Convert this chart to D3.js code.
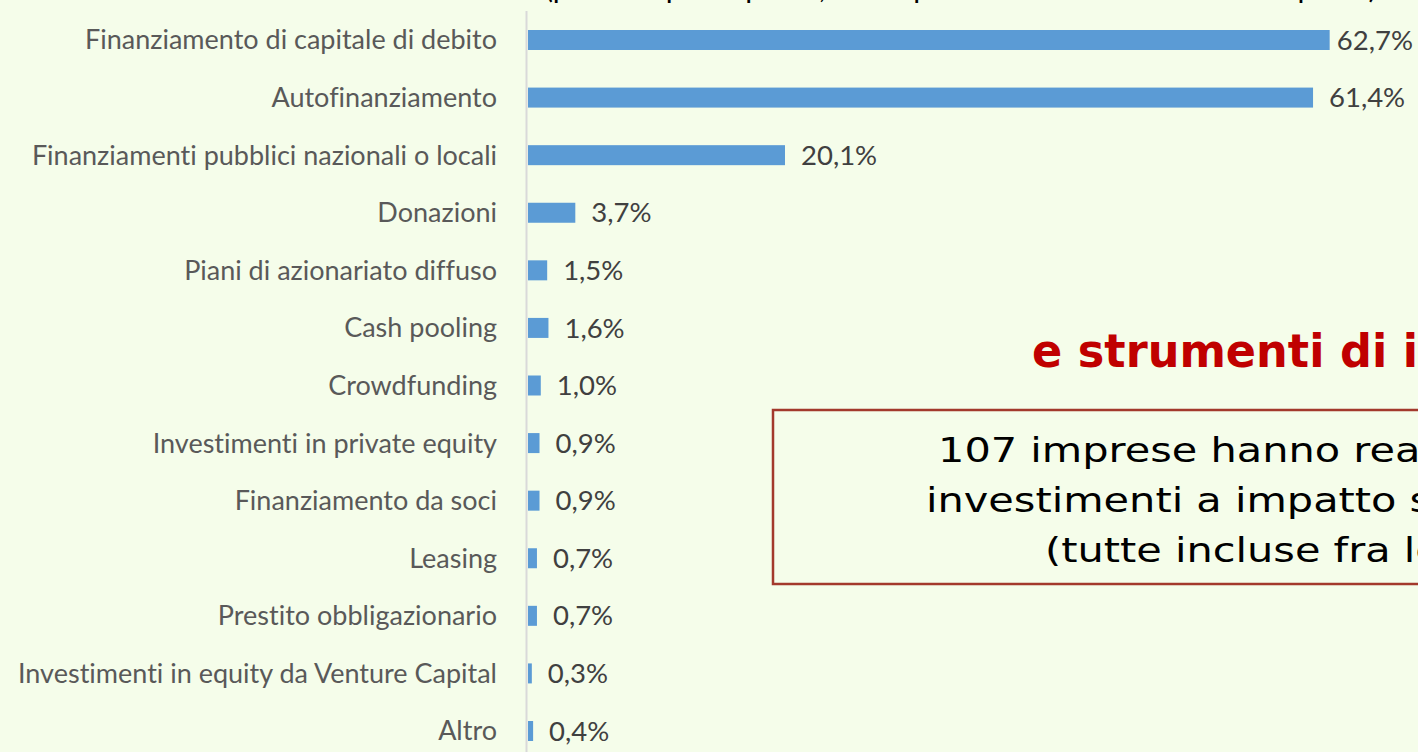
<!DOCTYPE html>
<html>
<head>
<meta charset="utf-8">
<script src="https://cdn.jsdelivr.net/npm/d3@7"></script>
<style>
  html, body { margin: 0; padding: 0; background: #f5fdea; overflow: hidden; }
  svg { display: block; }
  text { font-variant-ligatures: none; }
</style>
</head>
<body>
<svg width="1418" height="752"></svg>
<script>
const svg = d3.select("svg");
const width = +svg.attr("width");
const height = +svg.attr("height");

// Data
const categories = [
  "Finanziamento di capitale di debito",
  "Autofinanziamento",
  "Finanziamenti pubblici nazionali o locali",
  "Donazioni",
  "Piani di azionariato diffuso",
  "Cash pooling",
  "Crowdfunding",
  "Investimenti in private equity",
  "Finanziamento da soci",
  "Leasing",
  "Prestito obbligazionario",
  "Investimenti in equity da Venture Capital",
  "Altro"
];
const values = [62.7, 61.4, 20.1, 3.7, 1.5, 1.6, 1.0, 0.9, 0.9, 0.7, 0.7, 0.3, 0.4];

const titleText = "(possibili più risposte; valori percentuali sul totale delle imprese)";
const headingText = "e strumenti di inv";
const boxLines = [
  "107 imprese hanno real",
  "investimenti a impatto so",
  "(tutte incluse fra le"
];

const data = categories.map((c, i) => ({ cat: c, val: values[i] }));
const fmt = v => d3.format(".1f")(v).replace(".", ",") + "%";

// Scales
const x = d3.scaleLinear().domain([0, 70]).range([528, 1423]);
const y = d3.scalePoint().domain(categories).range([40, 731]);
const barH = 20;

// background
svg.append("rect").attr("width", width).attr("height", height).attr("fill", "#f5fdea");

// partially visible title at top
svg.append("text")
  .attr("x", 545).attr("y", -2)
  .attr("font-family", "Lato, sans-serif")
  .attr("font-size", 30)
  .attr("fill", "#000")
  .text(titleText);

// vertical axis line
svg.append("line")
  .attr("x1", 526.5).attr("x2", 526.5)
  .attr("y1", 11).attr("y2", height)
  .attr("stroke", "#d9d9d9").attr("stroke-width", 2);

// bars
svg.selectAll("rect.bar")
  .data(data)
  .join("rect")
  .attr("class", "bar")
  .attr("x", x(0))
  .attr("y", d => y(d.cat) - barH / 2)
  .attr("width", d => x(d.val) - x(0))
  .attr("height", barH)
  .attr("fill", "#5b9bd5");

// category labels
svg.selectAll("text.cat")
  .data(data)
  .join("text")
  .attr("class", "cat")
  .attr("x", 497)
  .attr("y", d => y(d.cat))
  .attr("dy", "0.35em")
  .attr("text-anchor", "end")
  .attr("font-family", "Lato, sans-serif")
  .attr("font-size", 27)
  .attr("fill", "#595959")
  .text(d => d.cat);

// value labels, pulled in when they would run past the edge
svg.selectAll("text.val")
  .data(data)
  .join("text")
  .attr("class", "val")
  .attr("y", d => y(d.cat))
  .attr("dy", "0.35em")
  .attr("font-family", "Lato, sans-serif")
  .attr("font-size", 27.5)
  .attr("fill", "#404040")
  .text(d => fmt(d.val))
  .attr("x", function(d) {
    const w = this.getComputedTextLength();
    return Math.min(x(d.val) + 16, width - 5 - w);
  });

// red heading, cut at right edge
svg.append("g")
  .attr("transform", "translate(1032,367) scale(0.97,1)")
  .append("text")
  .attr("font-family", "DejaVu Sans, sans-serif")
  .attr("font-weight", "bold")
  .attr("font-size", 46)
  .attr("fill", "#c00000")
  .text(headingText);

// note box
svg.append("rect")
  .attr("x", 773).attr("y", 410)
  .attr("width", 900).attr("height", 174)
  .attr("fill", "none")
  .attr("stroke", "#a3392c").attr("stroke-width", 2.5);

const boxX = [938, 926, 1045];
svg.selectAll("g.box")
  .data(boxLines)
  .join("g")
  .attr("class", "box")
  .attr("transform", (d, i) => `translate(${boxX[i]},${462 + i * 50}) scale(1.22,1)`)
  .append("text")
  .attr("font-family", "DejaVu Sans, sans-serif")
  .attr("font-size", 34)
  .attr("fill", "#000")
  .text(d => d);
</script>
</body>
</html>
